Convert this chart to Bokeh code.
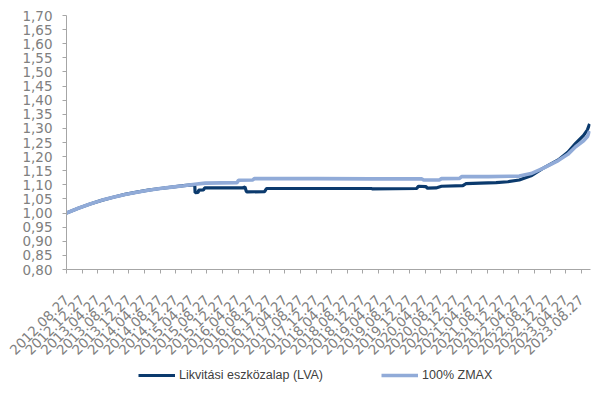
import math
import pandas as pd
from bokeh.plotting import figure
from bokeh.layouts import column
from bokeh.models import Range1d, FixedTicker, CustomJSTickFormatter, Legend, LegendItem
from bokeh.embed import file_html
from bokeh.resources import INLINE

# ---- data ----
lva_dates = ["2012-08-27", "2012-11-27", "2013-02-27", "2013-05-27", "2013-08-27",
             "2013-11-27", "2014-02-27", "2014-05-27", "2014-08-27", "2014-11-27",
             "2015-02-27", "2015-05-25", "2015-05-28",
             "2015-06-20", "2015-06-25", "2015-08-01", "2015-08-10", "2016-06-01",
             "2016-06-20", "2016-07-01", "2016-07-10", "2016-11-20", "2016-12-05",
             "2019-03-01", "2019-03-10", "2020-02-20", "2020-03-05", "2020-05-01",
             "2020-05-15", "2020-07-20", "2020-09-01", "2021-02-15", "2021-03-10",
             "2021-07-01", "2021-11-01", "2022-02-01", "2022-05-01", "2022-08-01",
             "2022-11-01", "2023-03-01", "2023-05-15", "2023-07-15", "2023-09-15",
             "2023-10-15", "2023-11-01"]
lva_values = [1.000, 1.017, 1.032, 1.045, 1.056,
              1.066, 1.074, 1.081, 1.087, 1.092,
              1.097, 1.101, 1.072,
              1.073, 1.081, 1.082, 1.089, 1.089,
              1.092, 1.076, 1.075, 1.076, 1.087,
              1.087, 1.086, 1.087, 1.095, 1.094,
              1.088, 1.089, 1.095, 1.097, 1.104,
              1.106, 1.108, 1.111, 1.117, 1.132,
              1.158, 1.188, 1.215, 1.247, 1.275,
              1.295, 1.316]

zmax_dates = ["2012-08-27", "2012-11-27", "2013-02-27", "2013-05-27", "2013-08-27",
              "2013-11-27", "2014-02-27", "2014-05-27", "2014-08-27", "2014-11-27",
              "2015-02-27", "2015-05-25", "2015-08-15",
              "2016-04-20", "2016-05-01", "2016-08-20", "2016-09-01", "2018-01-01",
              "2019-03-01", "2020-04-01", "2020-04-15", "2020-08-15", "2020-09-01",
              "2021-01-20", "2021-02-05", "2021-09-01", "2022-05-01", "2022-08-01",
              "2022-11-01", "2023-03-01", "2023-05-15", "2023-07-15", "2023-09-15",
              "2023-10-15", "2023-11-01"]
zmax_values = [1.000, 1.017, 1.032, 1.045, 1.056,
               1.066, 1.074, 1.081, 1.087, 1.092,
               1.097, 1.102, 1.106,
               1.108, 1.116, 1.117, 1.122, 1.122,
               1.121, 1.121, 1.117, 1.117, 1.122,
               1.123, 1.129, 1.129, 1.131, 1.140,
               1.158, 1.186, 1.208, 1.235, 1.256,
               1.271, 1.291]

tick_labels = ["2012.08.27", "2012.12.27", "2013.04.27", "2013.08.27", "2013.12.27",
               "2014.04.27", "2014.08.27", "2014.12.27", "2015.04.27", "2015.08.27",
               "2015.12.27", "2016.04.27", "2016.08.27", "2016.12.27", "2017.04.27",
               "2017.08.27", "2017.12.27", "2018.04.27", "2018.08.27", "2018.12.27",
               "2019.04.27", "2019.08.27", "2019.12.27", "2020.04.27", "2020.08.27",
               "2020.12.27", "2021.04.27", "2021.08.27", "2021.12.27", "2022.04.27",
               "2022.08.27", "2022.12.27", "2023.04.27", "2023.08.27"]

y_ticks = [0.80, 0.85, 0.90, 0.95, 1.00, 1.05, 1.10, 1.15, 1.20, 1.25, 1.30,
           1.35, 1.40, 1.45, 1.50, 1.55, 1.60, 1.65, 1.70]

series_names = ["Likvitási eszközalap (LVA)", "100% ZMAX"]
series_colors = ["#0b3a6d", "#91abd8"]
series_widths = [3.2, 3.6]


def to_ms(strings):
    ts = pd.to_datetime(pd.Series(strings).str.replace(".", "-", regex=False))
    return [float((t - pd.Timestamp("1970-01-01")) / pd.Timedelta(milliseconds=1)) for t in ts]


lva_x = to_ms(lva_dates)
zmax_x = to_ms(zmax_dates)
tick_x = to_ms(tick_labels)

x_start = to_ms(["2012-08-27"])[0]
x_end = to_ms(["2023-11-08"])[0]

AXIS_FONT = "DejaVu Sans"
LABEL_COLOR = "#808080"
AXIS_COLOR = "#a6a6a6"

p = figure(width=595, height=366, output_backend="svg", toolbar_location=None,
           x_range=Range1d(x_start, x_end), y_range=Range1d(0.80, 1.70),
           min_border_left=66, min_border_right=5, min_border_top=15,
           min_border_bottom=97)

p.outline_line_color = None
p.xgrid.visible = False
p.ygrid.visible = False

p.line(lva_x, lva_values, line_color=series_colors[0], line_width=series_widths[0])
p.line(zmax_x, zmax_values, line_color=series_colors[1], line_width=series_widths[1])

# y axis
ya = p.yaxis[0]
ya.ticker = FixedTicker(ticks=y_ticks)
ya.formatter = CustomJSTickFormatter(code="return tick.toFixed(2).replace('.', ',');")
ya.major_label_text_font = AXIS_FONT
ya.major_label_text_font_size = "13.5px"
ya.major_label_text_color = LABEL_COLOR
ya.axis_line_color = AXIS_COLOR
ya.major_tick_line_color = AXIS_COLOR
ya.major_tick_in = 0
ya.major_tick_out = 4
ya.minor_tick_line_color = None
ya.major_label_standoff = 10

# x axis
xa = p.xaxis[0]
xa.ticker = FixedTicker(ticks=tick_x)
xa.formatter = CustomJSTickFormatter(code="""
const d = new Date(tick);
const m = String(d.getUTCMonth() + 1).padStart(2, '0');
const dd = String(d.getUTCDate()).padStart(2, '0');
return d.getUTCFullYear() + '.' + m + '.' + dd;
""")
xa.major_label_orientation = math.pi / 4
xa.major_label_text_font = AXIS_FONT
xa.major_label_text_font_size = "13.5px"
xa.major_label_text_color = LABEL_COLOR
xa.axis_line_color = AXIS_COLOR
xa.major_tick_line_color = AXIS_COLOR
xa.major_tick_in = 0
xa.major_tick_out = 4
xa.minor_tick_line_color = None
xa.major_label_standoff = 24

# ---- legend strip below the chart (series drawn out of its view range) ----
leg = figure(width=595, height=46, output_backend="svg", toolbar_location=None,
             x_range=Range1d(0, 1), y_range=Range1d(0, 1),
             x_axis_location=None, y_axis_location=None,
             min_border_left=0, min_border_right=0, min_border_top=0,
             min_border_bottom=0)
leg.outline_line_color = None
leg.xgrid.visible = False
leg.ygrid.visible = False
l1 = leg.line(lva_x, lva_values, line_color=series_colors[0], line_width=series_widths[0])
l2 = leg.line(zmax_x, zmax_values, line_color=series_colors[1], line_width=series_widths[1])

legend = Legend(items=[LegendItem(label=series_names[0], renderers=[l1]),
                       LegendItem(label=series_names[1], renderers=[l2])],
                orientation="horizontal", location=(72, 30))
legend.glyph_width = 37
legend.glyph_height = 12
legend.label_height = 12
legend.label_standoff = 4
legend.spacing = 58
legend.padding = 0
legend.margin = 0
legend.border_line_color = None
legend.background_fill_alpha = 0
legend.label_text_font = "Liberation Sans"
legend.label_text_font_size = "12.5px"
legend.label_text_color = "#404040"
leg.add_layout(legend, "center")

layout = column(p, leg, spacing=0)
open("out.html", "w").write(file_html(layout, INLINE))
